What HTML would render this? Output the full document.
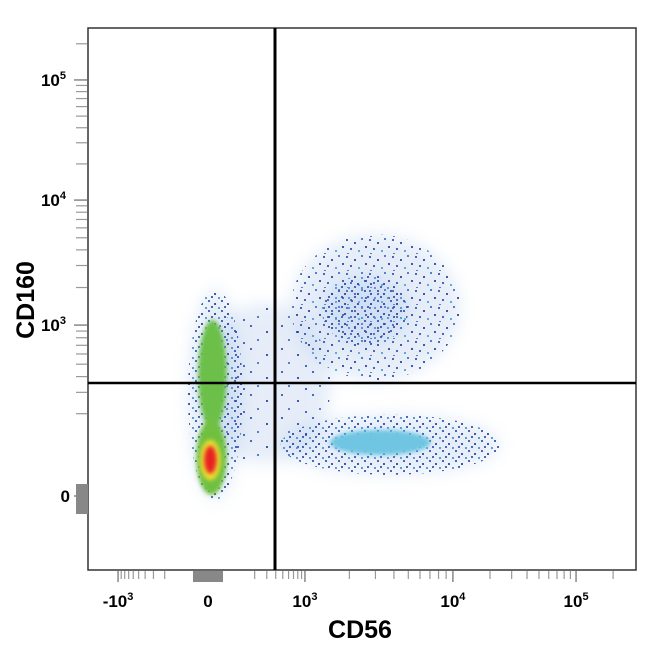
<!DOCTYPE html>
<html><head><meta charset="utf-8"><style>
body{margin:0;background:#fff;}
svg{display:block;font-family:"Liberation Sans",sans-serif;}
</style></head><body>
<svg id="chart" width="650" height="650" viewBox="0 0 650 650">
<defs>
<filter id="blur4" x="-50%" y="-50%" width="200%" height="200%"><feGaussianBlur stdDeviation="6"/></filter>
<filter id="blur2" x="-50%" y="-50%" width="200%" height="200%"><feGaussianBlur stdDeviation="2"/></filter>
<filter id="soft" x="-50%" y="-50%" width="200%" height="200%"><feGaussianBlur stdDeviation="8"/></filter>
<mask id="fadeMask" maskContentUnits="objectBoundingBox"><rect width="1" height="1" fill="#fff"/></mask>
<pattern id="speck" width="23" height="17" patternUnits="userSpaceOnUse">
<rect x="1" y="1" width="2" height="2" fill="#2a4fb0"/><rect x="9" y="4" width="2" height="2" fill="#1e3f9e"/>
<rect x="16" y="0" width="2" height="2" fill="#3a6cc8"/><rect x="5" y="10" width="2" height="2" fill="#2a4fb0"/>
<rect x="13" y="12" width="2" height="2" fill="#44a0d8"/><rect x="20" y="8" width="2" height="2" fill="#1e3f9e"/>
<rect x="2" y="15" width="2" height="1" fill="#3a6cc8"/>
</pattern>
<pattern id="speckDense" width="13" height="10" patternUnits="userSpaceOnUse">
<rect x="0" y="0" width="2" height="2" fill="#2a4fb0"/><rect x="6" y="3" width="2" height="2" fill="#1e3f9e"/>
<rect x="10" y="7" width="2" height="2" fill="#3f8fd0"/><rect x="3" y="6" width="2" height="2" fill="#2a4fb0"/>
</pattern>
<pattern id="speckSparse" width="31" height="23" patternUnits="userSpaceOnUse">
<rect x="2" y="3" width="2" height="2" fill="#2a4fb0"/><rect x="18" y="9" width="2" height="2" fill="#1e3f9e"/>
<rect x="9" y="17" width="2" height="2" fill="#3a6cc8"/><rect x="26" y="20" width="2" height="2" fill="#2a4fb0"/>
</pattern>
</defs>
<g id="plot"></g>
<rect x="88" y="28" width="548" height="542" fill="none" stroke="#333" stroke-width="1.5"/>
<line x1="275" y1="28" x2="275" y2="570" stroke="#000" stroke-width="3"/>
<line x1="88" y1="383" x2="636" y2="383" stroke="#000" stroke-width="2.5"/>
<g id="axes"></g>
<text x="360" y="638" text-anchor="middle" font-size="25" font-weight="bold">CD56</text>
<text transform="translate(34,300) rotate(-90)" text-anchor="middle" font-size="25" font-weight="bold">CD160</text>
</svg>
<script>
const xAnchorsT=[-3,0,3,5.3,7.6];
const xAnchorsPx=[118,208,305,453,576];
const yAnchorsT=[-3,0,3,5.3,7.6];
const yAnchorsPx=[666,496,325,200,80];
// populations: [xLo,xHi,yLo,yHi] in data units
const popNames=['bridge-scatter','blue-halo-left','upper-right-cluster','upper-right-core','lower-right-cluster','lower-right-core','green-column','green-base','yellow-core','red-core'];
const popXLo=[-30,-72,643,1300,470,1480,-33,-40,-27,-13];
const popXHi=[1500,129,11400,5000,24000,7050,61,61,40,27];
const popYLo=[60,-7,375,700,38,78,144,2,28,40];
const popYHi=[1500,1925,5330,2500,196,144,1100,177,115,100];
const popFill=['url(#speckSparse)','url(#speckDense)','url(#speck)','url(#speckDense)','url(#speckDense)','#6fc6e2','#6cc04a','#70c040','#f0e030','#e82020'];
const xTickVals=[-1000,0,1000,10000,100000];
const xTickLabels=['-10','0','10','10','10'];
const xTickExp=['3','','3','4','5'];
const yTickVals=[0,1000,10000,100000];
const yTickLabels=['0','10','10','10'];
const yTickExp=['','3','4','5'];
const minorVals=[-900,-800,-700,-600,-500,-400,-300,-200,200,300,400,500,600,700,800,900,2000,3000,4000,5000,6000,7000,8000,9000,20000,30000,40000,50000,60000,70000,80000,90000,200000];

function interp(t,ts,ps){
  for(let i=0;i<ts.length-1;i++){ if(t<=ts[i+1]||i===ts.length-2){ const f=(t-ts[i])/(ts[i+1]-ts[i]); return ps[i]+f*(ps[i+1]-ps[i]); } }
}
function xs(v){return interp(Math.asinh(v/100),xAnchorsT,xAnchorsPx);}
function ys(v){return interp(Math.asinh(v/100),yAnchorsT,yAnchorsPx);}
const NS='http://www.w3.org/2000/svg';
const plot=document.getElementById('plot');
for(let i=0;i<popNames.length;i++){
  const x1=xs(popXLo[i]),x2=xs(popXHi[i]),y1=ys(popYLo[i]),y2=ys(popYHi[i]);
  const isSpeck=popFill[i].startsWith('url');
  if(isSpeck){
    const halo=document.createElementNS(NS,'ellipse');
    halo.setAttribute('cx',(x1+x2)/2);halo.setAttribute('cy',(y1+y2)/2);
    halo.setAttribute('rx',Math.abs(x2-x1)/2);halo.setAttribute('ry',Math.abs(y2-y1)/2);
    halo.setAttribute('fill','#8fb0e0');halo.setAttribute('opacity','0.22');halo.setAttribute('filter','url(#soft)');
    
    
    plot.appendChild(halo);
  }
  const e=document.createElementNS(NS,'ellipse');
  e.setAttribute('cx',(x1+x2)/2);e.setAttribute('cy',(y1+y2)/2);
  e.setAttribute('rx',Math.abs(x2-x1)/2);e.setAttribute('ry',Math.abs(y2-y1)/2);
  e.setAttribute('fill',popFill[i]);
  if(!isSpeck) e.setAttribute('filter','url(#blur2)'); else e.setAttribute('opacity','0.85');
  
  
  plot.appendChild(e);
}
const axes=document.getElementById('axes');
function add(tag,attrs,text){const el=document.createElementNS(NS,tag);for(const k in attrs)el.setAttribute(k,attrs[k]);if(text!==undefined)el.textContent=text;axes.appendChild(el);return el;}
for(const v of minorVals){const x=xs(v);if(x>636||x<88)continue;const l=add('line',{x1:x,y1:571,x2:x,y2:579,stroke:'#999','stroke-width':1.2});

}
for(const v of minorVals){const y=ys(v);if(y<28||y>565)continue;const l=add('line',{x1:76,y1:y,x2:87,y2:y,stroke:'#999','stroke-width':1.2});

}
const gx=add('rect',{x:193,y:571,width:30,height:11,fill:'#888'});


const gy=add('rect',{x:76,y:484,width:12,height:30,fill:'#888'});


for(let i=0;i<xTickVals.length;i++){
  const x=xs(xTickVals[i]);
  const t=add('text',{x:x,y:607,'text-anchor':'middle','font-size':17,'font-weight':'bold'});
  
  
  t.textContent=xTickLabels[i];
  if(xTickExp[i]){const s=document.createElementNS(NS,'tspan');s.setAttribute('dy','-7');s.setAttribute('font-size','11');s.textContent=xTickExp[i];t.appendChild(s);}
  const l=add('line',{x1:x,y1:571,x2:x,y2:582,stroke:'#888','stroke-width':1.5});
  
  
}
for(let i=0;i<yTickVals.length;i++){
  const y=ys(yTickVals[i]);
  const t=add('text',{x:yTickExp[i]?66:70,y:y+6,'text-anchor':'end','font-size':17,'font-weight':'bold'});
  
  
  t.textContent=yTickLabels[i];
  if(yTickExp[i]){const s=document.createElementNS(NS,'tspan');s.setAttribute('dy','-7');s.setAttribute('font-size','11');s.textContent=yTickExp[i];t.appendChild(s);}
  const l=add('line',{x1:74,y1:y,x2:87,y2:y,stroke:'#888','stroke-width':1.5});
  
  
}
</script>
</body></html>
